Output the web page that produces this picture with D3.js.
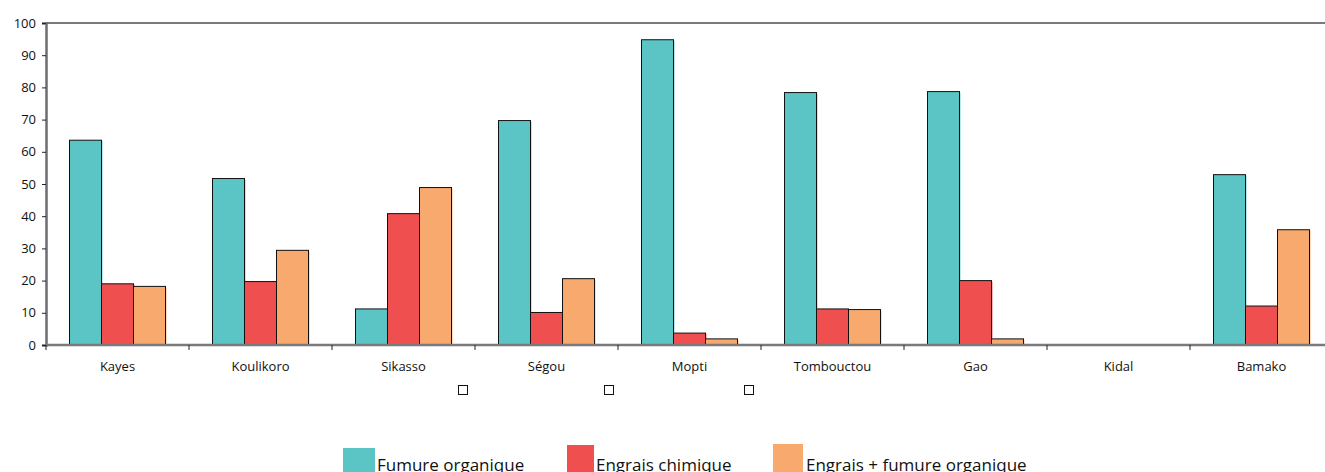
<!DOCTYPE html>
<html><head><meta charset="utf-8">
<script src="https://cdn.jsdelivr.net/npm/d3@7"></script>
<style>body{margin:0;background:#fff;overflow:hidden}svg{display:block}</style>
</head><body>
<script>
const categories = ["Kayes","Koulikoro","Sikasso","Ségou","Mopti","Tombouctou","Gao","Kidal","Bamako"];
const seriesNames = ["Fumure organique","Engrais chimique","Engrais + fumure organique"];
const fumure = [63.6, 51.7, 11.2, 69.7, 94.8, 78.4, 78.7, 0, 52.9];
const engrais = [19.0, 19.7, 40.8, 10.1, 3.7, 11.2, 20.0, 0, 12.1];
const mixte = [18.2, 29.4, 48.9, 20.6, 1.9, 11.0, 1.9, 0, 35.8];
const yTicks = [0,10,20,30,40,50,60,70,80,90,100];
const colors = ["#5bc5c6","#ef4f4f","#f8a96e"];

const W = 1325, H = 472;
const svg = d3.select("body").append("svg").attr("width", W).attr("height", H);
const font = "'Open Sans', 'Noto Sans', sans-serif";

const x0 = 46, bandW = 143;
const x = d3.scaleBand().domain(categories).range([x0, x0 + bandW*categories.length]).paddingInner(0).paddingOuter(0);
const y = d3.scaleLinear().domain([0,100]).range([345, 23]);
const groupW = 96;
const xs = d3.scaleBand().domain(seriesNames).range([0, groupW]);

const data = [fumure, engrais, mixte];

// top frame line
svg.append("line").attr("x1", x0).attr("x2", W).attr("y1", y(100)).attr("y2", y(100))
  .attr("stroke", "#7a7a7e").attr("stroke-width", 2);

// bars
categories.forEach((c, i) => {
  const gx = x(c) + (bandW - groupW)/2;
  seriesNames.forEach((s, j) => {
    const v = data[j][i];
    if (v <= 0) return;
    const bx = gx + xs(s), bw = xs.bandwidth();
    // shadow
    svg.append("rect").attr("x", bx+1).attr("y", y(v)+1).attr("width", bw).attr("height", y(0)-y(v)-1)
      .attr("fill", colors[j]).attr("opacity", 0.8);
    svg.append("rect").attr("x", bx).attr("y", y(v)).attr("width", bw).attr("height", y(0)-y(v))
      .attr("fill", colors[j]).attr("stroke", "#111").attr("stroke-width", 1);
  });
});

// y axis
const yAxis = d3.axisLeft(y).tickValues(yTicks).tickSize(4).tickPadding(6);
const gy = svg.append("g").attr("transform", `translate(${x0},0)`).call(yAxis);
gy.select(".domain").attr("stroke", "#6e6e72").attr("stroke-width", 2.5);
gy.selectAll(".tick line").attr("stroke", "#222");
gy.selectAll("text").attr("font-family", font).attr("font-size", 13).attr("fill", "#111");

// x axis baseline
svg.append("line").attr("x1", x0).attr("x2", W).attr("y1", y(0)).attr("y2", y(0))
  .attr("stroke", "#7a7a7e").attr("stroke-width", 2.5);
const bounds = d3.range(categories.length+1).map(i => x0 + i*bandW);
svg.selectAll(".xt").data(bounds).enter().append("line")
  .attr("x1", d => d).attr("x2", d => d).attr("y1", y(0)).attr("y2", y(0)+5)
  .attr("stroke", "#222").attr("stroke-width", 1);
svg.selectAll(".xl").data(categories).enter().append("text")
  .attr("x", d => x(d) + bandW/2).attr("y", 371).attr("text-anchor", "middle")
  .attr("font-family", font).attr("font-size", 13).attr("fill", "#111").text(d => d);

// small squares
const squares = [463, 609, 749];
svg.selectAll(".sq").data(squares).enter().append("rect")
  .attr("x", d => d - 4.5).attr("y", 385.5).attr("width", 9).attr("height", 9)
  .attr("fill", "#fff").attr("stroke", "#111").attr("stroke-width", 1);

// legend
const legend = [
  {x: 343, w: 32, y: 448, tx: 377},
  {x: 567, w: 27, y: 445, tx: 596},
  {x: 773, w: 30, y: 444, tx: 806}
];
legend.forEach((l, i) => {
  svg.append("rect").attr("x", l.x).attr("y", l.y).attr("width", l.w).attr("height", H - l.y)
    .attr("fill", colors[i]);
  svg.append("text").attr("x", l.tx).attr("y", 471).attr("font-family", font)
    .attr("font-size", 17).attr("fill", "#111").text(seriesNames[i]);
});
</script>
</body></html>
